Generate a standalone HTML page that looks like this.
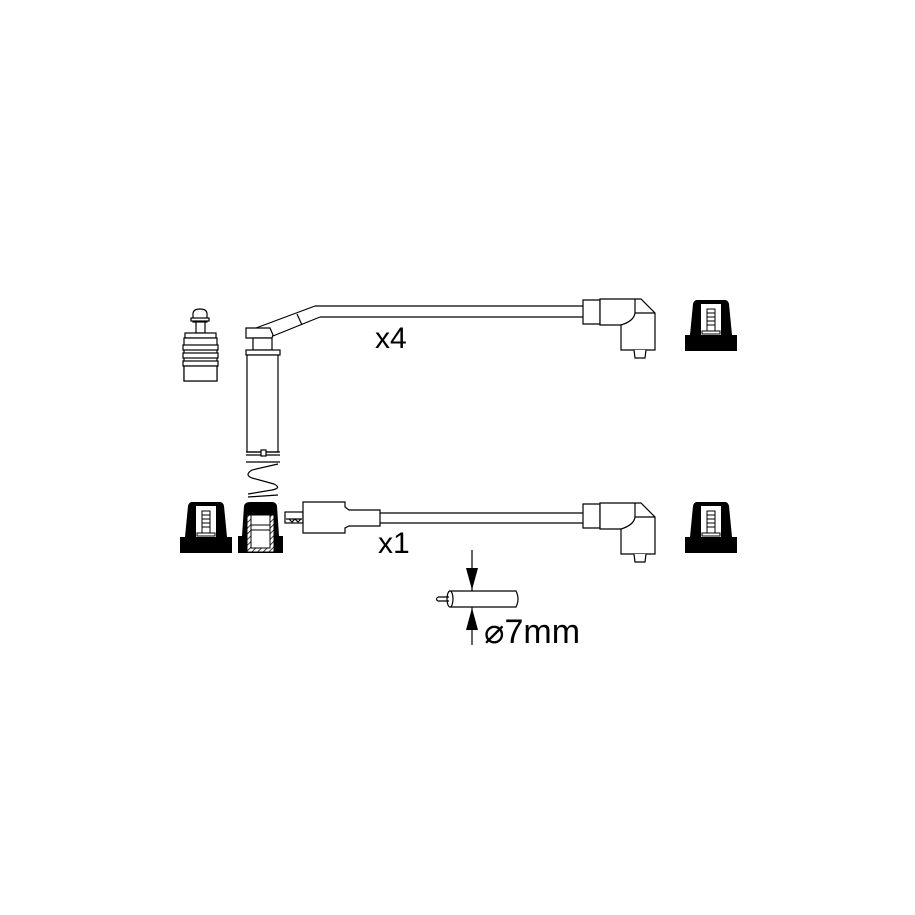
<!DOCTYPE html>
<html><head><style>body{margin:0;background:#fff}svg{display:block}</style></head><body>
<svg width="915" height="915" viewBox="0 0 915 915" xmlns="http://www.w3.org/2000/svg" font-family="Liberation Sans, sans-serif">
<defs>
<g id="nut">
<path d="M12 0 H40 Q43 0 44 4 L47 35 H52 V51 H0 V35 H5 L8 4 Q9 0 12 0 Z" fill="#000"/>
<rect x="16" y="4" width="20" height="31" fill="#fff"/>
<rect x="22" y="9" width="8" height="22" fill="#fff" stroke="#000" stroke-width="1"/>
<path d="M22 13H30M22 17H30M22 21H30M22 25H30" stroke="#000" stroke-width="1"/>
<rect x="17" y="31" width="18" height="3" fill="#fff" stroke="#000" stroke-width="1"/>
</g>
<g id="elbow" fill="#fff" stroke="#000" stroke-width="1.2">
<path d="M583 1 H600 V25 H583 Z"/>
<path d="M600 0 H635 L641 0 L655 14 V51 H621 V26 H600 Z"/>
<path d="M621 26 Q634 22 635 14 L655 14" fill="none"/>
<path d="M635 0 V14" fill="none"/>
<path d="M634 51 L635 59 H645 L646 51"/>
</g>
<pattern id="hatch" width="4" height="4" patternUnits="userSpaceOnUse" patternTransform="rotate(45)"><rect width="4" height="4" fill="#fff"/><line x1="0" y1="0" x2="0" y2="4" stroke="#000" stroke-width="1.5"/></pattern>
</defs>
<g fill="#fff" stroke="#000" stroke-width="1.2">
<!-- spark plug terminal -->
<path d="M193 322 V314 Q193 309 200 309 Q207 309 207 314 V322 Z"/>
<rect x="191" y="318" width="18" height="3"/>
<rect x="196" y="322" width="9" height="11"/>
<rect x="185" y="333" width="31" height="5"/>
<rect x="184" y="338" width="33" height="43"/>
<rect x="183" y="345" width="35" height="5"/>
<rect x="183" y="353" width="35" height="5"/>
<rect x="183" y="361" width="35" height="5"/>
<rect x="184" y="366" width="33" height="15"/>
<!-- upper wire -->
<path d="M315 306 H585 M320 317 H585" fill="none"/>
<path d="M273 336 L320 317 M256 328 L315 306" fill="none"/>
<path d="M297 314 L302 325" fill="none"/>
<path d="M246 328 H270 L273 335 L272 338 H246 Z"/>
<rect x="253" y="338" width="19" height="12"/>
<rect x="246" y="350" width="34" height="5"/>
<rect x="247" y="355" width="31" height="97"/>
<path d="M246 452 H280 M246 455 H280 M246 462 H280" fill="none"/>
<rect x="261" y="450" width="5" height="6"/>
<!-- spring -->
<path d="M278 464 L252 470 Q244 475 252 478 L274 484 Q282 488 272 490 L248 494 M248 497 L278 495" fill="none"/>
<!-- lower wire -->
<path d="M380 513 H585 M380 523 H585" fill="none"/>
<rect x="285" y="512" width="18" height="11"/>
<path d="M286 519 H302 M289 519 L292 522 L295 519 L298 522 L301 519" fill="none"/>
<path d="M303 502 H345 V507 L349 510 H380 V526 H349 L345 528 V533 H303 Z"/>
</g>
<use href="#elbow" transform="translate(0,299)"/>
<use href="#elbow" transform="translate(0,503)"/>
<use href="#nut" transform="translate(685,300)"/>
<use href="#nut" transform="translate(685,502)"/>
<use href="#nut" transform="translate(180,502)"/>
<!-- hatched boot -->
<path d="M250 502 H272 Q276 502 277 506 L279 536 H283 V553 H238 V536 H242 L244 506 Q245 502 250 502 Z" fill="#000"/>
<rect x="247" y="515" width="27" height="37" fill="url(#hatch)" stroke="#000" stroke-width="1"/>
<rect x="251" y="515" width="19" height="33" fill="#fff" stroke="#000" stroke-width="1"/>
<path d="M251 525 H270 M251 530 H270" stroke="#000" stroke-width="1"/>
<!-- diameter -->
<g stroke="#000" stroke-width="1.2" fill="#fff">
<path d="M472 550 V645" fill="none"/>
<path d="M450 591 H516 Q520 599 516 607 H450 Z"/>
<ellipse cx="450" cy="599" rx="3" ry="8"/>
<path d="M438 597 H449 M438 601 H449 M438 597 Q435 599 438 601" fill="none"/>
</g>
<path d="M466 568 H478 L472 590 Z M466 630 H478 L472 608 Z" fill="#000"/>
<text x="375" y="348" font-size="30">x4</text>
<text x="378" y="553" font-size="30">x1</text>
<text x="484" y="643" font-size="34">⌀7mm</text>
</svg>
</body></html>
